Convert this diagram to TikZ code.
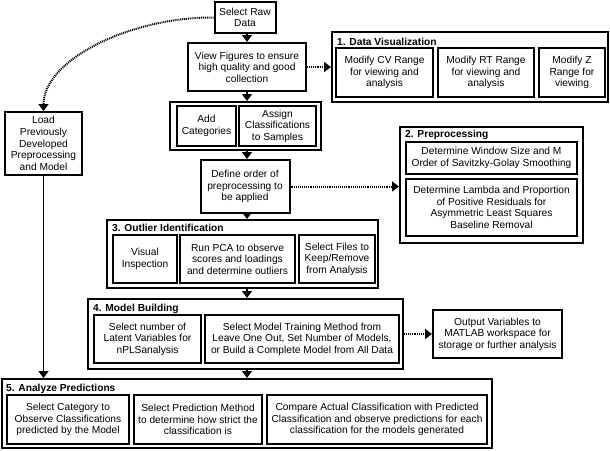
\documentclass[tikz,border=0pt]{standalone}
\usepackage{fontspec}
\setmainfont{Liberation Sans}
\usetikzlibrary{arrows.meta}
\begin{document}
\begin{tikzpicture}[x=1pt,y=-1pt,
  box/.style={draw, line width=2pt, align=center, inner sep=0pt, font=\fontsize{10.2}{11.6}\selectfont},
  grp/.style={draw, line width=2pt, inner sep=0pt},
  ttl/.style={anchor=west, inner sep=0pt, font=\fontsize{10.2}{11.6}\selectfont\bfseries},
  arr/.style={line width=2pt, -{Triangle[width=10pt,length=7pt]}},
  dot/.style={line width=2pt, dash pattern=on 1pt off 0.9pt, -{Triangle[width=10pt,length=7pt]}}
]
\useasboundingbox (0,0) rectangle (610,450);
% main column
\node[box, minimum width=61, minimum height=31] (raw) at (245,17.5) {Select Raw\\Data};
\node[box, minimum width=118, minimum height=48] (view) at (247,67) {View Figures to ensure\\high quality and good\\collection};
\node[grp, minimum width=151, minimum height=48] (grpc) at (245.5,126) {};
\node[box, minimum width=59, minimum height=40] (add) at (206.5,126) {Add\\Categories};
\node[box, minimum width=77, minimum height=40] (assign) at (277.5,126) {Assign\\Classifications\\to Samples};
\node[box, minimum width=89, minimum height=53] (define) at (245,186.5) {Define order of\\preprocessing to\\be applied};
% outlier
\node[grp, minimum width=271, minimum height=68] (outlier) at (242.5,254) {};
\node[ttl] (outt) at (112,227.5) {3. Outlier Identification};
\node[box, minimum width=64, minimum height=48] (visual) at (145,259) {Visual\\Inspection};
\node[box, minimum width=115, minimum height=48] (pca) at (237.5,259) {Run PCA to observe\\scores and loadings\\and determine outliers};
\node[box, minimum width=76, minimum height=48] (files) at (337,259) {Select Files to\\Keep/Remove\\from Analysis};
% model building
\node[grp, minimum width=315, minimum height=70] (model) at (245.5,334) {};
\node[ttl] (modt) at (93,308.5) {4. Model Building};
\node[box, minimum width=107, minimum height=48] (latent) at (147.5,339) {Select number of\\Latent Variables for\\nPLSanalysis};
\node[box, minimum width=194, minimum height=48] (training) at (302,339) {Select Model Training Method from\\Leave One Out, Set Number of Models,\\or Build a Complete Model from All Data};
\node[box, minimum width=129, minimum height=48] (output) at (497.5,334) {Output Variables to\\MATLAB workspace for\\storage or further analysis};
% analyze
\node[grp, minimum width=490, minimum height=69] (analyze) at (247,413.5) {};
\node[ttl] (anat) at (6,388.5) {5. Analyze Predictions};
\node[box, minimum width=122, minimum height=49] (cat) at (68,419.5) {Select Category to\\Observe Classifications\\predicted by the Model};
\node[box, minimum width=128, minimum height=49] (method) at (198,419.5) {Select Prediction Method\\to determine how strict the\\classification is};
\node[box, minimum width=220, minimum height=49] (compare) at (377,419.5) {Compare Actual Classification with Predicted\\Classification and observe predictions for each\\classification for the models generated};
% load
\node[box, minimum width=77, minimum height=63] (load) at (43.5,143.5) {Load\\Previously\\Developed\\Preprocessing\\and Model};
% data visualization
\node[grp, minimum width=276, minimum height=70] (datavis) at (470,67) {};
\node[ttl] (dvt) at (337,42) {1. Data Visualization};
\node[box, minimum width=97, minimum height=49] (cv) at (384.5,72.5) {Modify CV Range\\for viewing and\\analysis};
\node[box, minimum width=96, minimum height=49] (rt) at (486,72.5) {Modify RT Range\\for viewing and\\analysis};
\node[box, minimum width=66, minimum height=49] (zr) at (572,72.5) {Modify Z\\Range for\\viewing};
% preprocessing
\node[grp, minimum width=183, minimum height=116] (prep) at (491.5,185) {};
\node[ttl] (prept) at (405,135) {2. Preprocessing};
\node[box, minimum width=171, minimum height=32] (sg) at (491.5,158) {Determine Window Size and M\\Order of Savitzky-Golay Smoothing};
\node[box, minimum width=171, minimum height=57] (als) at (491.5,207.5) {Determine Lambda and Proportion\\of Positive Residuals for\\Asymmetric Least Squares\\Baseline Removal};
% connectors
\draw[arr] (raw.south -| view) -- (view.north);
\draw[arr] (view.south) -- (grpc.north -| view);
\draw[arr] (grpc.south -| view) -- (define.north -| view);
\draw[arr] (define.south -| view) -- (outlier.north -| view);
\draw[arr] (outlier.south -| view) -- (model.north -| view);
\draw[arr] (model.south -| view) -- (analyze.north -| view);
\draw[arr, line width=1.6pt] (load.south) -- (analyze.north -| load);
\draw[dot] (view.east) -- (datavis.west |- view.east);
\draw[dot] (define.east) -- (prep.west |- define.east);
\draw[dot] (model.east) -- (output.west);
\draw[dot] (raw.west) .. controls (130,17) and (43.5,60) .. (load.north);
\end{tikzpicture}
\end{document}
